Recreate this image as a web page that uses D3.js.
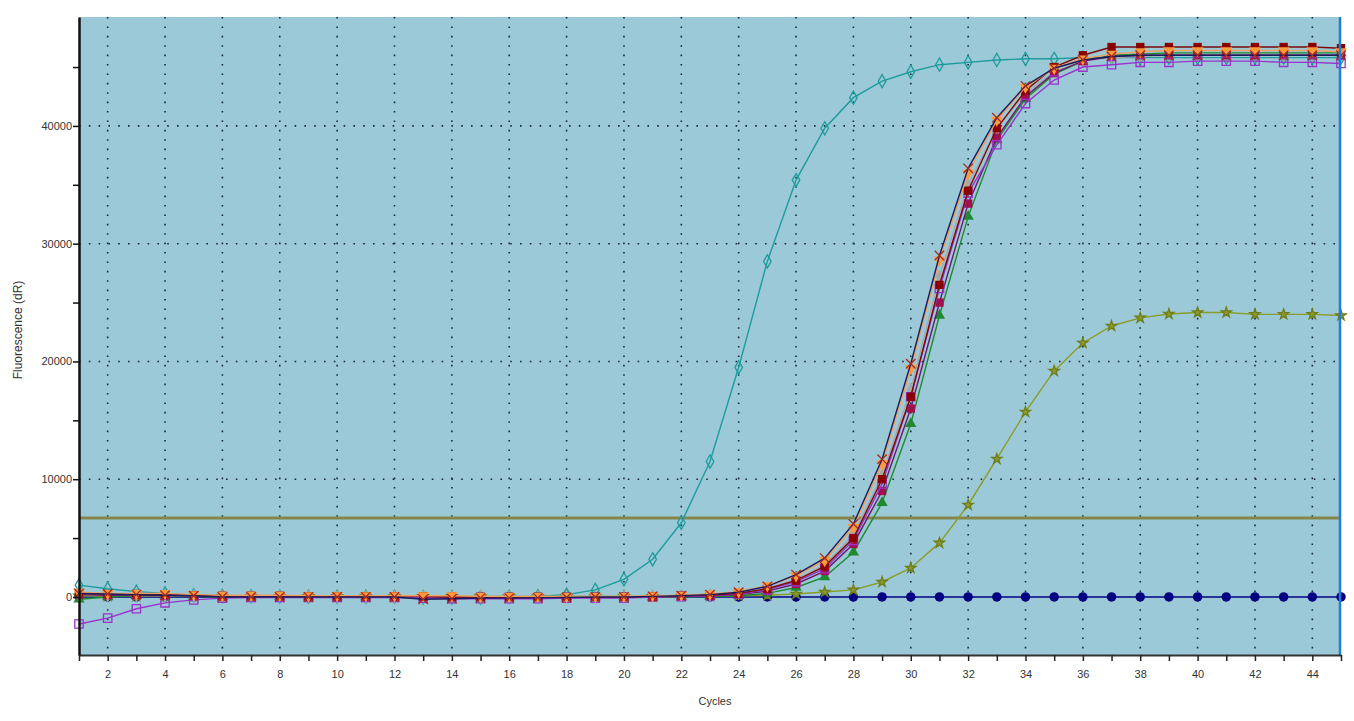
<!DOCTYPE html>
<html>
<head>
<meta charset="utf-8">
<script src="https://cdn.jsdelivr.net/npm/d3@7"></script>
<style>
    body { margin: 0; background: #fff; }
    svg text { font-family: "Liberation Sans", Arial, sans-serif; fill: #333; }
</style>
</head>
<body>
<div id="chart"></div>
<script>
"use strict";

// cycles 1..45
var cycles = d3.range(1, 46);

var xTicks = d3.range(2, 45, 2);
var yTicks = [0, 10000, 20000, 30000, 40000];
var threshold = 6700;

var navyFlat = [0, 0, 0, 0, 0, 0, 0, 0, 0, 0, 0, 0, 0, 0, 0, 0, 0, 0, 0, 0, 0, 0, 0, 0, 0,
    0, 0, 0, 0, 0, 0, 0, 0, 0, 0, 0, 0, 0, 0, 0, 0, 0, 0, 0, 0];
var tealEarly = [1000, 700, 450, 300, 150, 80, 50, 30, 20, 0, 0, 0, -50, -50, -50, 0, 50, 200, 600, 1500,
    3200, 6300, 11500, 19500, 28500, 35400, 39800, 42400, 43800, 44600, 45200, 45400, 45600, 45700, 45700,
    45800, 45800, 45800, 45800, 45800, 45800, 45800, 45800, 45800, 45800];
var oliveLate = [100, 80, 60, 50, 50, 50, 50, 50, 50, 50, 50, 50, 50, 50, 50, 50, 50, 50, 50, 50,
    50, 50, 80, 100, 150, 250, 420, 600, 1270, 2460, 4590, 7810, 11720, 15710, 19190, 21570, 23010,
    23700, 24030, 24150, 24150, 24000, 24000, 24000, 23900];
var greenTri = [-200, 0, 100, 100, 50, 0, 0, 0, 0, 0, 0, 0, 0, 0, 0, 0, 0, 0, 0, 0,
    0, 0, 50, 100, 300, 800, 1700, 3800, 8000, 14700, 23900, 32300, 38800, 42300, 44400, 45500, 46000,
    46100, 46200, 46200, 46200, 46200, 46200, 46200, 46200];
var grayDiamond = [200, 150, 150, 100, 100, 50, 50, 50, 50, 0, 0, 0, 0, 0, 0, 0, 0, 0, 0, 0,
    50, 100, 150, 300, 700, 1500, 2700, 5300, 10300, 17600, 27200, 35000, 39800, 42800, 44600, 45500,
    45800, 45900, 46000, 46000, 46000, 46000, 46000, 46000, 46000];
var crimsonSq = [200, 150, 150, 100, 100, 50, 50, 50, 50, 0, 0, 0, 0, 0, 0, 0, 0, 0, 0, 0,
    0, 50, 100, 200, 500, 1100, 2200, 4500, 9000, 16000, 25000, 33400, 39000, 42500, 44500, 45500,
    45900, 46000, 46000, 46000, 46000, 46000, 46000, 46000, 46000];
var purpleOpen = [-2300, -1800, -1000, -500, -250, -100, -50, -50, -50, -50, -50, -50, -100, -150, -150,
    -150, -150, -100, -100, -100, 0, 50, 100, 250, 600, 1300, 2400, 4800, 9600, 17000, 26200, 34300,
    38400, 41900, 43900, 45000, 45200, 45400, 45400, 45500, 45500, 45500, 45400, 45400, 45300];
var maroonSq = [300, 250, 250, 200, 150, 100, 100, 100, 50, 50, 50, 50, 50, 0, 0, 0, 0, 0, 0, 0,
    50, 100, 150, 300, 700, 1400, 2600, 5000, 10000, 17000, 26500, 34500, 39800, 43000, 45000, 46000,
    46700, 46700, 46700, 46700, 46700, 46700, 46700, 46700, 46600];
var orangeTri = [400, 300, 300, 300, 200, 150, 150, 150, 100, 100, 100, 100, 100, 100, 50, 50, 50, 50, 50, 50,
    100, 150, 250, 450, 950, 1800, 3100, 5900, 11300, 19400, 28600, 36000, 40500, 43300, 44900, 45700,
    46100, 46300, 46400, 46400, 46400, 46400, 46400, 46400, 46300];
var navyX = [300, 250, 200, 150, 100, 0, 0, 0, 0, 0, 0, 0, -200, -150, -100, -100, -80, -50, 0, 0,
    50, 100, 200, 400, 900, 1900, 3300, 6200, 11700, 19800, 29000, 36400, 40700, 43400, 44900, 45600,
    45900, 46000, 46000, 46000, 46000, 46000, 46000, 46000, 46000];

// draw order: first one sits at the bottom
var series = [
    { values: navyFlat, line: "#000080", fill: "#000080", stroke: "none", shape: d3.symbolCircle, size: 70 },
    { values: tealEarly, line: "#1e9c9c", fill: "none", stroke: "#1e9c9c", shape: d3.symbolDiamond, size: 50 },
    { values: oliveLate, line: "#8c9c28", fill: "#8c9c28", stroke: "#6f7d1a", shape: d3.symbolStar, size: 32 },
    { values: greenTri, line: "#1f8a2f", fill: "#1f8a2f", stroke: "none", shape: d3.symbolTriangle, size: 55 },
    { values: grayDiamond, line: "#a8a8a8", fill: "#a8a8a8", stroke: "none", shape: d3.symbolDiamond, size: 60 },
    { values: crimsonSq, line: "#6a1a6a", fill: "#a0104e", stroke: "none", shape: d3.symbolSquare, size: 70 },
    { values: purpleOpen, line: "#9933cc", fill: "none", stroke: "#9933cc", shape: d3.symbolSquare, size: 70 },
    { values: maroonSq, line: "#7a0a0a", fill: "#8b0000", stroke: "none", shape: d3.symbolSquare, size: 70 },
    { values: orangeTri, line: "#f0a060", fill: "#ff9a3c", stroke: "none", shape: d3.symbolTriangle, size: 60, rotate: 180 },
    { values: navyX, line: "#1c1c5c", fill: "none", stroke: "#a52a1e", shape: d3.symbolX, size: 60 }
];

var W = 1354, H = 721;
var plot = { left: 79, right: 1341, top: 17, bottom: 655 };

var svg = d3.select("#chart").append("svg")
    .attr("width", W)
    .attr("height", H);

var x = d3.scaleLinear().domain([1, 45]).range([plot.left, plot.right]);
var y = d3.scaleLinear().domain([-4930, 49250]).range([plot.bottom, plot.top]);

// plot background
svg.append("rect")
    .attr("x", plot.left)
    .attr("y", plot.top)
    .attr("width", plot.right - plot.left)
    .attr("height", plot.bottom - plot.top)
    .attr("fill", "#9bc9d7");

// dotted grid
svg.append("g").selectAll("line")
    .data(xTicks)
    .enter().append("line")
    .attr("x1", function(d) { return x(d); })
    .attr("x2", function(d) { return x(d); })
    .attr("y1", plot.top)
    .attr("y2", plot.bottom)
    .attr("stroke", "#1a2a3a")
    .attr("stroke-width", 1.6)
    .attr("stroke-dasharray", "1.6,7.8");

svg.append("g").selectAll("line")
    .data(yTicks.filter(function(d) { return d > 0; }))
    .enter().append("line")
    .attr("x1", plot.left)
    .attr("x2", plot.right)
    .attr("y1", function(d) { return y(d); })
    .attr("y2", function(d) { return y(d); })
    .attr("stroke", "#1a2a3a")
    .attr("stroke-width", 1.6)
    .attr("stroke-dasharray", "1.6,8.2");

// threshold
svg.append("line")
    .attr("x1", plot.left)
    .attr("x2", plot.right)
    .attr("y1", y(threshold))
    .attr("y2", y(threshold))
    .attr("stroke", "#85854c")
    .attr("stroke-width", 3);

var line = d3.line()
    .x(function(d, i) { return x(cycles[i]); })
    .y(function(d) { return y(d); });

var plotArea = svg.append("g");

series.forEach(function(s) {
    plotArea.append("path")
        .attr("d", line(s.values))
        .attr("fill", "none")
        .attr("stroke", s.line)
        .attr("stroke-width", 1.4);

    plotArea.append("g").selectAll("path")
        .data(s.values)
        .enter().append("path")
        .attr("transform", function(d, i) {
            return "translate(" + x(cycles[i]) + "," + y(d) + ")" + (s.rotate ? " rotate(" + s.rotate + ")" : "");
        })
        .attr("d", d3.symbol().type(s.shape).size(s.size))
        .attr("fill", s.fill)
        .attr("stroke", s.stroke)
        .attr("stroke-width", 1.3);
});

// right edge marker line
svg.append("line")
    .attr("x1", plot.right - 1)
    .attr("x2", plot.right - 1)
    .attr("y1", plot.top)
    .attr("y2", plot.bottom)
    .attr("stroke", "#1f7fd6")
    .attr("stroke-width", 2.5);

// x axis
var xAxis = svg.append("g")
    .attr("transform", "translate(0," + plot.bottom + ")")
    .call(d3.axisBottom(x)
        .tickValues(cycles)
        .tickSizeInner(6)
        .tickSizeOuter(0)
        .tickFormat(function(d) { return (d % 2 === 0 && d < 45) ? d : ""; }));
xAxis.select(".domain").attr("stroke", "#333").attr("stroke-width", 2);
xAxis.selectAll(".tick line").attr("stroke", "#222").attr("stroke-width", 1.5);
xAxis.selectAll(".tick text").attr("font-size", 11).attr("dy", "1.3em");

// y axis
var yAxis = svg.append("g")
    .attr("transform", "translate(" + plot.left + ",0)")
    .call(d3.axisLeft(y)
        .tickValues(d3.range(0, 45001, 5000))
        .tickSizeInner(6)
        .tickSizeOuter(0)
        .tickFormat(function(d) { return d % 10000 === 0 ? d : ""; }));
yAxis.select(".domain").attr("stroke", "#111").attr("stroke-width", 2.5);
yAxis.selectAll(".tick line").attr("stroke", "#111").attr("stroke-width", 1.5);
yAxis.selectAll(".tick text").attr("font-size", 11).attr("x", -7);

// axis titles
svg.append("text")
    .attr("x", 715)
    .attr("y", 705)
    .attr("text-anchor", "middle")
    .style("font-size", "11px")
    .text("Cycles");

svg.append("text")
    .attr("transform", "translate(22,330) rotate(-90)")
    .attr("text-anchor", "middle")
    .style("font-size", "12px")
    .text("Fluorescence (dR)");
</script>
</body>
</html>
